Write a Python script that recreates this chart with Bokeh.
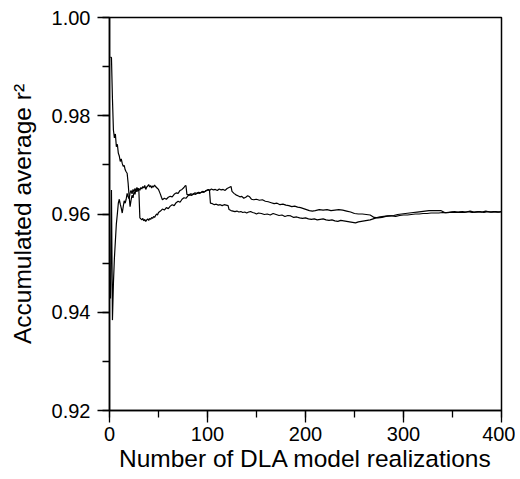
from bokeh.plotting import figure
from bokeh.models import Range1d, SingleIntervalTicker, PrintfTickFormatter
from bokeh.embed import file_html
from bokeh.resources import INLINE

# Series 1 (starts high)
a_n = [1, 2, 3, 4, 5, 6, 7, 8, 9, 10, 11, 12, 13, 14, 15, 16, 17, 18, 19, 20,
       21, 22, 23, 24, 25, 26, 27, 28, 29, 30, 31, 32, 33, 34, 35, 36, 37, 38, 39, 40,
       41, 42, 43, 44, 45, 46, 47, 48, 49, 50, 52, 54, 56, 58, 60, 62, 64, 66, 68, 70,
       72, 74, 76, 78, 80, 82, 84, 86, 88, 90, 92, 94, 96, 98, 100, 102, 104, 106, 108, 110,
       112, 114, 116, 118, 120, 122, 124, 125, 127, 129, 131, 133, 135, 137, 139, 141, 143, 145, 147, 150,
       153, 156, 159, 162, 165, 168, 171, 174, 177, 180, 183, 186, 189, 192, 195, 198, 201, 204, 207, 210,
       214, 218, 222, 226, 230, 234, 238, 242, 246, 250, 254, 258, 262, 266, 270, 274, 278, 282, 286, 290,
       294, 298, 302, 306, 310, 314, 318, 322, 326, 330, 334, 338, 342, 346, 350, 354, 358, 362, 366, 370,
       374, 378, 382, 386, 390, 394, 398, 400]
a_r2 = [0.9920, 0.9918, 0.9835, 0.9771, 0.9755, 0.9763, 0.9737, 0.9742, 0.9724, 0.9718,
        0.9707, 0.9712, 0.9703, 0.9697, 0.9699, 0.9690, 0.9686, 0.9683, 0.9663, 0.9636,
        0.9615, 0.9628, 0.9638, 0.9633, 0.9645, 0.9640, 0.9650, 0.9645, 0.9652, 0.9646,
        0.9592, 0.9590, 0.9588, 0.9591, 0.9586, 0.9589, 0.9585, 0.9588, 0.9590, 0.9587,
        0.9591, 0.9589, 0.9593, 0.9591, 0.9595, 0.9593, 0.9597, 0.9600, 0.9598, 0.9603,
        0.9606, 0.9610, 0.9608, 0.9613, 0.9611, 0.9616, 0.9619, 0.9617, 0.9623, 0.9626,
        0.9624, 0.9630, 0.9633, 0.9632, 0.9637, 0.9639, 0.9638, 0.9641, 0.9640, 0.9643,
        0.9642, 0.9645, 0.9644, 0.9647, 0.9649, 0.9648, 0.9651, 0.9649, 0.9650, 0.9648,
        0.9651, 0.9649, 0.9650, 0.9648, 0.9652, 0.9654, 0.9656, 0.9646, 0.9642, 0.9639,
        0.9637, 0.9635, 0.9636, 0.9632, 0.9634, 0.9637, 0.9635, 0.9630, 0.9629, 0.9630,
        0.9628, 0.9629, 0.9626, 0.9625, 0.9623, 0.9621, 0.9622, 0.9619, 0.9620, 0.9618,
        0.9617, 0.9615, 0.9616, 0.9614, 0.9613, 0.9611, 0.9609, 0.9607, 0.9606, 0.9607,
        0.9609, 0.9608, 0.9609, 0.9607, 0.9608, 0.9609, 0.9608, 0.9606, 0.9604, 0.9601,
        0.9600, 0.9600, 0.9599, 0.9598, 0.9593, 0.9592, 0.9593, 0.9595, 0.9596, 0.9597,
        0.9599, 0.9600, 0.9601, 0.9602, 0.9603, 0.9604, 0.9605, 0.9606, 0.9607, 0.9607,
        0.9607, 0.9607, 0.9603, 0.9603, 0.9604, 0.9603, 0.9604, 0.9603, 0.9605, 0.9603,
        0.9604, 0.9605, 0.9603, 0.9605, 0.9604, 0.9605, 0.9604, 0.9605]

# Series 2 (starts low)
b_n = [1, 2, 3, 4, 5, 6, 7, 8, 9, 10, 11, 12, 13, 14, 15, 16, 17, 18, 19, 20,
       21, 22, 23, 24, 25, 26, 27, 28, 29, 30, 31, 32, 33, 34, 35, 36, 37, 38, 39, 40,
       41, 42, 43, 44, 45, 46, 47, 48, 49, 50, 51, 52, 53, 54, 56, 58, 60, 62, 64, 66,
       68, 70, 72, 74, 76, 77, 78, 79, 81, 83, 85, 87, 89, 91, 93, 95, 97, 99, 101, 102,
       103, 105, 107, 109, 111, 113, 115, 117, 119, 121, 122, 124, 126, 128, 130, 132, 134, 136, 138, 140,
       142, 144, 146, 148, 150, 152, 155, 158, 161, 164, 167, 170, 173, 176, 179, 182, 185, 188, 191, 194,
       197, 200, 203, 206, 209, 212, 215, 218, 221, 224, 227, 230, 233, 236, 239, 242, 245, 248, 251, 254,
       257, 260, 263, 266, 269, 272, 276, 280, 284, 288, 292, 296, 300, 304, 308, 312, 316, 320, 324, 328,
       332, 336, 340, 344, 348, 352, 356, 360, 364, 368, 372, 376, 380, 384, 388, 392, 396, 400]
b_r2 = [0.9428, 0.9649, 0.9384, 0.9459, 0.9510, 0.9545, 0.9580, 0.9600, 0.9622, 0.9630,
        0.9620, 0.9612, 0.9602, 0.9615, 0.9627, 0.9622, 0.9630, 0.9642, 0.9635, 0.9631,
        0.9643, 0.9648, 0.9641, 0.9650, 0.9645, 0.9652, 0.9647, 0.9654, 0.9649, 0.9652,
        0.9648, 0.9654, 0.9651, 0.9656, 0.9653, 0.9658, 0.9650, 0.9655, 0.9657, 0.9660,
        0.9655, 0.9658, 0.9653, 0.9657, 0.9655, 0.9659, 0.9656, 0.9654, 0.9652, 0.9650,
        0.9645, 0.9640, 0.9634, 0.9629, 0.9632, 0.9630, 0.9634, 0.9636, 0.9635, 0.9640,
        0.9643, 0.9642, 0.9648, 0.9650, 0.9654, 0.9657, 0.9658, 0.9640, 0.9639, 0.9641,
        0.9640, 0.9643, 0.9642, 0.9644, 0.9643, 0.9646, 0.9645, 0.9648, 0.9650, 0.9649,
        0.9622, 0.9621, 0.9619, 0.9620, 0.9618, 0.9619, 0.9617, 0.9619, 0.9618, 0.9617,
        0.9609, 0.9607, 0.9606, 0.9605, 0.9606, 0.9604, 0.9605, 0.9603, 0.9604, 0.9602,
        0.9604, 0.9605, 0.9603, 0.9602, 0.9600, 0.9602, 0.9601, 0.9599, 0.9600, 0.9598,
        0.9601, 0.9599, 0.9597, 0.9598, 0.9595, 0.9597, 0.9596, 0.9593, 0.9594, 0.9592,
        0.9591, 0.9592, 0.9590, 0.9589, 0.9590, 0.9588, 0.9589, 0.9590, 0.9588, 0.9587,
        0.9588, 0.9586, 0.9585, 0.9587, 0.9586, 0.9585, 0.9584, 0.9583, 0.9582, 0.9584,
        0.9585, 0.9586, 0.9587, 0.9588, 0.9590, 0.9592, 0.9594, 0.9595, 0.9596, 0.9596,
        0.9595, 0.9597, 0.9598, 0.9598, 0.9599, 0.9600, 0.9600, 0.9601, 0.9601, 0.9602,
        0.9602, 0.9602, 0.9603, 0.9603, 0.9604, 0.9605, 0.9604, 0.9605, 0.9604, 0.9606,
        0.9604, 0.9605, 0.9604, 0.9606, 0.9604, 0.9605, 0.9604, 0.9605]

x_title = "Number of DLA model realizations"
y_title = "Accumulated average r\u00b2"
FONT = "Liberation Sans"

p = figure(frame_width=392, frame_height=393,
           min_border_left=109, min_border_right=14, min_border_top=17, min_border_bottom=40,
           x_range=Range1d(0, 400), y_range=Range1d(0.92, 1.0),
           output_backend="svg", toolbar_location=None)

p.line(a_n, a_r2, line_color="black", line_width=1.2)
p.line(b_n, b_r2, line_color="black", line_width=1.2)

p.xgrid.visible = False
p.ygrid.visible = False
p.outline_line_color = "black"
p.outline_line_width = 1.5
p.outline_line_alpha = 1.0

p.xaxis.ticker = SingleIntervalTicker(interval=100, num_minor_ticks=2)
p.yaxis.ticker = SingleIntervalTicker(interval=0.02, num_minor_ticks=2)
p.yaxis.formatter = PrintfTickFormatter(format="%.2f")

for ax in (p.xaxis, p.yaxis):
    ax.axis_line_color = "black"
    ax.axis_line_width = 1.5
    ax.major_tick_line_color = "black"
    ax.minor_tick_line_color = "black"
    ax.major_tick_line_width = 1.3
    ax.minor_tick_line_width = 1.3
    ax.major_tick_in = 0
    ax.minor_tick_in = 0
    ax.major_tick_out = 12
    ax.minor_tick_out = 7
    ax.major_label_text_font = FONT
    ax.major_label_text_font_size = "20px"
    ax.major_label_text_color = "black"
    ax.axis_label_text_font = FONT
    ax.axis_label_text_font_style = "normal"
    ax.axis_label_text_color = "black"

p.xaxis.axis_label = x_title
p.yaxis.axis_label = y_title
p.xaxis.axis_label_text_font_size = "24.5px"
p.yaxis.axis_label_text_font_size = "24.5px"
p.xaxis.major_label_standoff = 4
p.yaxis.major_label_standoff = 7
p.xaxis.axis_label_standoff = 1
p.yaxis.axis_label_standoff = 13

open("out.html", "w").write(file_html(p, INLINE))
